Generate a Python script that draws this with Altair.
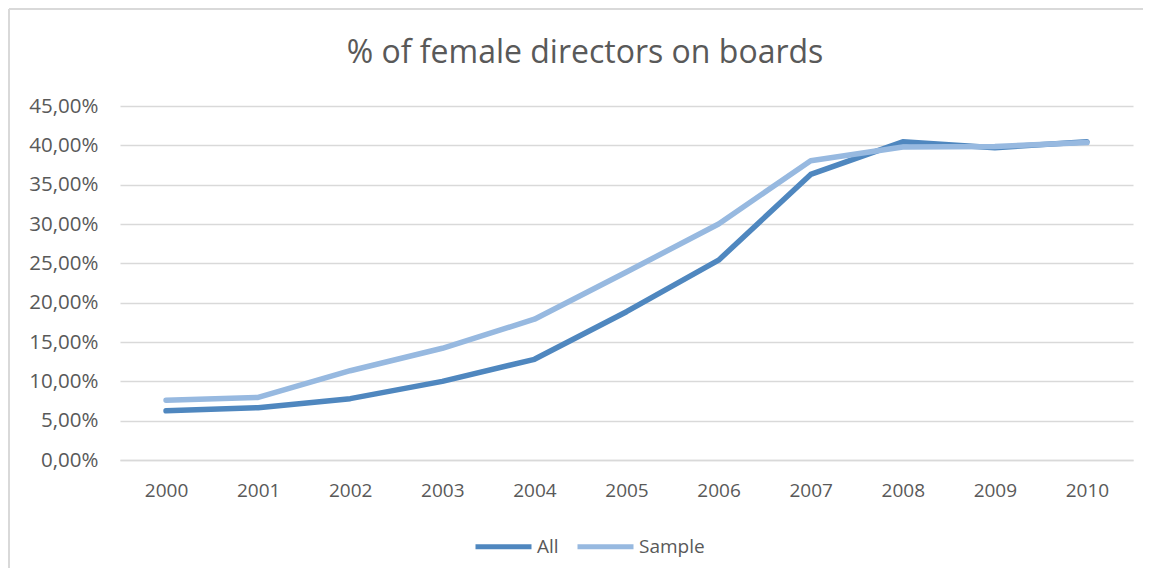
import altair as alt
import pandas as pd

years = ["2000", "2001", "2002", "2003", "2004", "2005", "2006", "2007", "2008", "2009", "2010"]
all_vals = [6.25, 6.65, 7.8, 10.0, 12.8, 18.85, 25.4, 36.3, 40.45, 39.7, 40.45]
sample_vals = [7.6, 7.95, 11.35, 14.2, 17.9, 23.9, 30.0, 38.05, 39.8, 39.85, 40.35]
series_names = ["All", "Sample"]
series_colors = ["#4f87bf", "#97b9e0"]
y_ticks = [0, 5, 10, 15, 20, 25, 30, 35, 40, 45]
title_text = ["% of female directors on boards"]

rows = []
for name, vals in zip(series_names, [all_vals, sample_vals]):
    for yr, v in zip(years, vals):
        rows.append({"year": yr, "value": v, "series": name})
df = pd.DataFrame(rows)

FONT = "Open Sans"
GREY = "#595959"
BORDER = "#d9d9d9"

one = pd.DataFrame({"t": title_text})

top_edge = alt.Chart(one).mark_rule(stroke=BORDER, strokeWidth=2).encode(
    x=alt.value(-111), x2=alt.value(1030), y=alt.value(-97)
)
left_edge = alt.Chart(one).mark_rule(stroke=BORDER, strokeWidth=2).encode(
    x=alt.value(-111), y=alt.value(-97), y2=alt.value(470)
)
title = alt.Chart(one).mark_text(
    font=FONT, fontSize=32, color=GREY, align="center", baseline="alphabetic"
).encode(text="t:N", x=alt.value(465), y=alt.value(-43))

lines = alt.Chart(df).mark_line(
    strokeWidth=5.5, strokeCap="round", strokeJoin="round"
).encode(
    x=alt.X("year:O", sort=years, scale=alt.Scale(type="point", padding=0.5),
            axis=alt.Axis(title=None, labelAngle=0, ticks=False, domain=True,
                          domainColor=BORDER, domainWidth=1.5,
                          labelPadding=21, labelFontSize=19, labelColor=GREY,
                          labelFont=FONT)),
    y=alt.Y("value:Q", scale=alt.Scale(domain=[0, 45], nice=False),
            axis=alt.Axis(title=None, values=y_ticks, ticks=False, domain=False,
                          gridColor=BORDER, gridWidth=1.5,
                          labelExpr="replace(format(datum.value, '.2f'), '.', ',') + '%'",
                          labelPadding=22, labelFontSize=20.5, labelColor=GREY,
                          labelFont=FONT)),
    color=alt.Color("series:N", scale=alt.Scale(domain=series_names, range=series_colors),
                    legend=alt.Legend(title=None, orient="none", direction="horizontal",
                                      legendX=353, legendY=410, symbolType="stroke",
                                      symbolSize=3136, symbolStrokeWidth=5,
                                      labelFontSize=19, labelColor=GREY, labelFont=FONT,
                                      labelOffset=3, columnPadding=8, padding=0)),
)

chart = alt.layer(top_edge, left_edge, title, lines).properties(
    width=1013, height=354,
    autosize=alt.AutoSizeParams(type="none"),
    padding={"left": 112, "top": 98, "right": 10, "bottom": 108},
).configure_view(stroke=None)

chart.save("out.html", embed_options={"renderer": "svg", "actions": False})
